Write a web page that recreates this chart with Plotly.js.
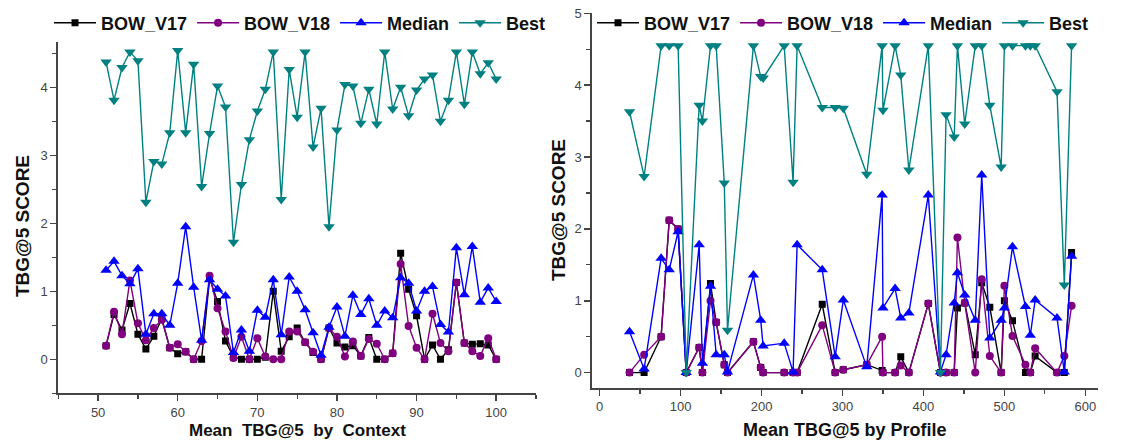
<!DOCTYPE html>
<html>
<head>
<meta charset="utf-8">
<script src="https://cdn.plot.ly/plotly-3.0.1.min.js"></script>
<style>html,body{margin:0;padding:0;background:#fff;}#chart{width:1122px;height:440px;}</style>
</head>
<body>
<div id="chart"></div>
<script>
// ---------- Left panel: Mean TBG@5 by Context ----------
var ctxX = [51,52,53,54,55,56,57,58,59,60,61,62,63,64,65,66,67,68,69,70,71,72,73,74,75,76,77,78,79,80,81,82,83,84,85,86,87,88,89,90,91,92,93,94,95,96,97,98,99,100];
var ctxV17 = [0.20,0.66,0.43,0.82,0.37,0.15,0.34,0.60,0.17,0.08,
              0.11,0.00,0.00,1.19,0.85,0.27,0.03,0.00,0.00,0.00,
              0.03,1.00,0.12,0.33,0.46,0.25,0.10,0.00,0.46,0.24,
              0.18,0.20,0.05,0.32,0.00,0.00,0.09,1.56,1.03,0.64,
              0.00,0.21,0.00,0.14,1.13,0.24,0.22,0.23,0.21,0.00];
var ctxV18 = [0.20,0.70,0.37,1.16,0.53,0.28,0.46,0.58,0.17,0.22,
              0.11,0.00,0.27,1.23,0.75,0.41,0.02,0.33,0.00,0.31,
              0.04,0.00,0.00,0.41,0.41,0.25,0.11,0.00,0.46,0.33,
              0.04,0.26,0.05,0.30,0.23,0.00,0.09,1.40,0.49,0.17,
              0.00,0.67,0.24,0.12,1.13,0.24,0.12,0.05,0.31,0.00];
var ctxMedian = [1.31,1.44,1.23,1.11,1.33,0.37,0.67,0.67,0.50,1.12,
                 1.95,1.06,0.28,1.17,1.03,0.93,0.10,0.43,0.12,0.72,
                 0.62,1.17,0.36,1.21,1.00,0.73,0.39,0.06,0.47,0.77,
                 0.34,0.94,0.66,0.89,0.50,0.71,0.61,1.20,1.12,0.71,
                 1.00,1.07,0.51,0.40,1.64,0.95,1.66,0.84,1.05,0.85];
var ctxBest = [4.37,3.81,4.29,4.52,4.39,2.31,2.91,2.87,3.33,4.54,
               3.33,4.34,2.54,3.32,4.02,3.71,1.72,2.57,3.23,3.65,
               3.97,4.52,2.35,4.26,3.56,4.52,3.12,3.69,1.95,3.37,
               4.04,4.02,3.47,3.97,3.46,4.52,3.68,4.00,3.58,3.96,
               4.12,4.18,3.50,3.81,4.52,3.75,4.52,4.20,4.36,4.12];

// ---------- Right panel: Mean TBG@5 by Profile ----------
var profX = [37,55,76,86,97,107,123,127,137,144,154,158,190,199,202,228,239,244,275,291,301,330,349,350,365,372,382,406,421,428,438,442,451,464,472,482,496,500,510,526,532,538,565,574,583];
var profV17 = [0.00,0.00,0.50,2.12,2.00,0.00,0.35,0.00,1.24,0.70,
               0.11,0.00,0.43,0.07,0.00,0.00,0.00,0.00,0.95,0.00,
               0.04,0.11,0.03,0.00,0.00,0.22,0.00,0.96,0.00,0.00,
               0.00,0.90,0.97,0.25,1.25,0.91,0.00,1.00,0.72,0.00,
               0.00,0.23,0.00,0.00,1.67];
var profV18 = [0.00,0.25,0.50,2.12,2.00,0.00,0.35,0.00,1.00,0.70,
               0.11,0.00,0.43,0.07,0.00,0.00,0.00,0.00,0.66,0.00,
               0.04,0.11,0.50,0.00,0.00,0.10,0.00,0.96,0.00,0.00,
               0.00,1.88,0.97,0.00,1.30,0.23,0.00,1.21,0.51,0.11,
               0.00,0.34,0.00,0.23,0.93];
var profMedian = [0.57,0.05,1.59,1.43,1.96,0.00,1.78,0.13,1.20,0.25,
                  0.25,0.01,1.36,0.73,0.37,0.41,0.01,1.78,1.43,0.22,
                  1.01,0.08,2.47,0.90,1.17,0.76,0.83,2.47,0.01,0.25,
                  0.97,1.39,1.08,0.73,2.75,0.48,0.73,0.90,1.75,0.92,
                  0.52,1.01,0.76,0.01,1.62];
var profBest = [3.63,2.73,4.55,4.55,4.55,0.00,3.72,3.50,4.55,4.55,
                2.64,0.59,4.55,4.12,4.10,4.55,2.65,4.55,3.69,3.69,
                3.68,2.76,4.55,3.65,4.55,4.14,2.82,4.55,0.00,3.59,
                3.28,4.55,3.46,4.55,4.55,3.72,2.86,4.55,4.55,4.55,
                4.55,4.55,3.91,1.22,4.55];

var seriesNames = ['BOW_V17','BOW_V18','Median','Best'];
var tickLabelsCtx = ['50','60','70','80','90','100'];
var tickLabelsProf = ['0','100','200','300','400','500','600'];

// ---------- styles ----------
var W = 1122, H = 440;
function px(x){ return x / W; }
function py(y){ return 1 - y / H; }
var FONT = 'Liberation Sans, Arial, Helvetica, sans-serif';
var styles = [
  {color:'#000000', symbol:'square', size:7},
  {color:'#800080', symbol:'circle', size:8},
  {color:'#0000ff', symbol:'triangle-up', size:10},
  {color:'#008080', symbol:'triangle-down', size:10}
];

function mk(x, y, i, xa, ya, lg) {
  return {
    type:'scatter', mode:'lines+markers', x:x, y:y, name:seriesNames[i],
    xaxis:xa, yaxis:ya, legend:lg,
    line:{color:styles[i].color, width:1.4},
    marker:{color:styles[i].color, symbol:styles[i].symbol, size:styles[i].size, line:{width:0}}
  };
}

var data = [
  mk(ctxX, ctxV17, 0, 'x', 'y', 'legend'),
  mk(ctxX, ctxV18, 1, 'x', 'y', 'legend'),
  mk(ctxX, ctxMedian, 2, 'x', 'y', 'legend'),
  mk(ctxX, ctxBest, 3, 'x', 'y', 'legend'),
  mk(profX, profV17, 0, 'x2', 'y2', 'legend2'),
  mk(profX, profV18, 1, 'x2', 'y2', 'legend2'),
  mk(profX, profMedian, 2, 'x2', 'y2', 'legend2'),
  mk(profX, profBest, 3, 'x2', 'y2', 'legend2')
];

var axisCommon = {
  showgrid:false, zeroline:false, showline:true, linecolor:'#444', linewidth:2,
  ticks:'outside', ticklen:6, tickwidth:1.5, tickcolor:'#444',
  tickfont:{family:FONT, size:13, color:'#444'},
  mirror:false, fixedrange:true
};
function ax(extra){ var o = {}; for (var k in axisCommon) o[k]=axisCommon[k]; for (var k2 in extra) o[k2]=extra[k2]; return o; }

var legendCommon = {
  orientation:'h', xanchor:'left', yanchor:'middle',
  font:{family:FONT, size:18, color:'#111', weight:'bold'},
  bgcolor:'rgba(0,0,0,0)', borderwidth:0, itemwidth:42, traceorder:'normal'
};
function lg(x){ var o = {}; for (var k in legendCommon) o[k]=legendCommon[k]; o.x = px(x); o.y = py(23); return o; }

var layout = {
  width:W, height:H, margin:{l:0,r:0,t:0,b:0},
  paper_bgcolor:'#fff', plot_bgcolor:'#fff',
  showlegend:true,
  xaxis: ax({domain:[px(58.3), px(536)], range:[45,105], tickvals:[50,60,70,80,90,100], ticktext:tickLabelsCtx,
            minor:{dtick:5, tick0:45, ticks:'outside', ticklen:4, tickcolor:'#444', tickwidth:1.2}, anchor:'y'}),
  yaxis: ax({domain:[py(393.3), py(41.7)], range:[-0.5,4.67], tickvals:[0,1,2,3,4],
            minor:{dtick:0.5, tick0:0, ticks:'outside', ticklen:4, tickcolor:'#444', tickwidth:1.2}, anchor:'x'}),
  xaxis2: ax({domain:[px(592.3), px(1097.5)], range:[-9,615], tickvals:[0,100,200,300,400,500,600], ticktext:tickLabelsProf,
            minor:{dtick:50, tick0:0, ticks:'outside', ticklen:4, tickcolor:'#444', tickwidth:1.2}, anchor:'y2'}),
  yaxis2: ax({domain:[py(387.7), py(13.3)], range:[-0.21,5], tickvals:[0,1,2,3,4,5],
            minor:{dtick:0.5, tick0:0, ticks:'outside', ticklen:4, tickcolor:'#444', tickwidth:1.2}, anchor:'x2'}),
  legend: lg(49),
  legend2: lg(592),
  annotations:[
    {text:'<b>Mean  TBG@5  by  Context</b>', xref:'paper', yref:'paper', x:px(297), y:py(430), xanchor:'center', yanchor:'middle', showarrow:false, font:{family:FONT, size:17, color:'#111'}},
    {text:'<b>Mean TBG@5 by Profile</b>', xref:'paper', yref:'paper', x:px(845), y:py(430), xanchor:'center', yanchor:'middle', showarrow:false, font:{family:FONT, size:18, color:'#111'}},
    {text:'<b>TBG@5 SCORE</b>', xref:'paper', yref:'paper', x:px(22), y:py(226), xanchor:'center', yanchor:'middle', textangle:-90, showarrow:false, font:{family:FONT, size:19, color:'#111'}},
    {text:'<b>TBG@5 SCORE</b>', xref:'paper', yref:'paper', x:px(558), y:py(210), xanchor:'center', yanchor:'middle', textangle:-90, showarrow:false, font:{family:FONT, size:19, color:'#111'}}
  ]
};

Plotly.newPlot('chart', data, layout, {staticPlot:true, displayModeBar:false});
</script>
</body>
</html>
